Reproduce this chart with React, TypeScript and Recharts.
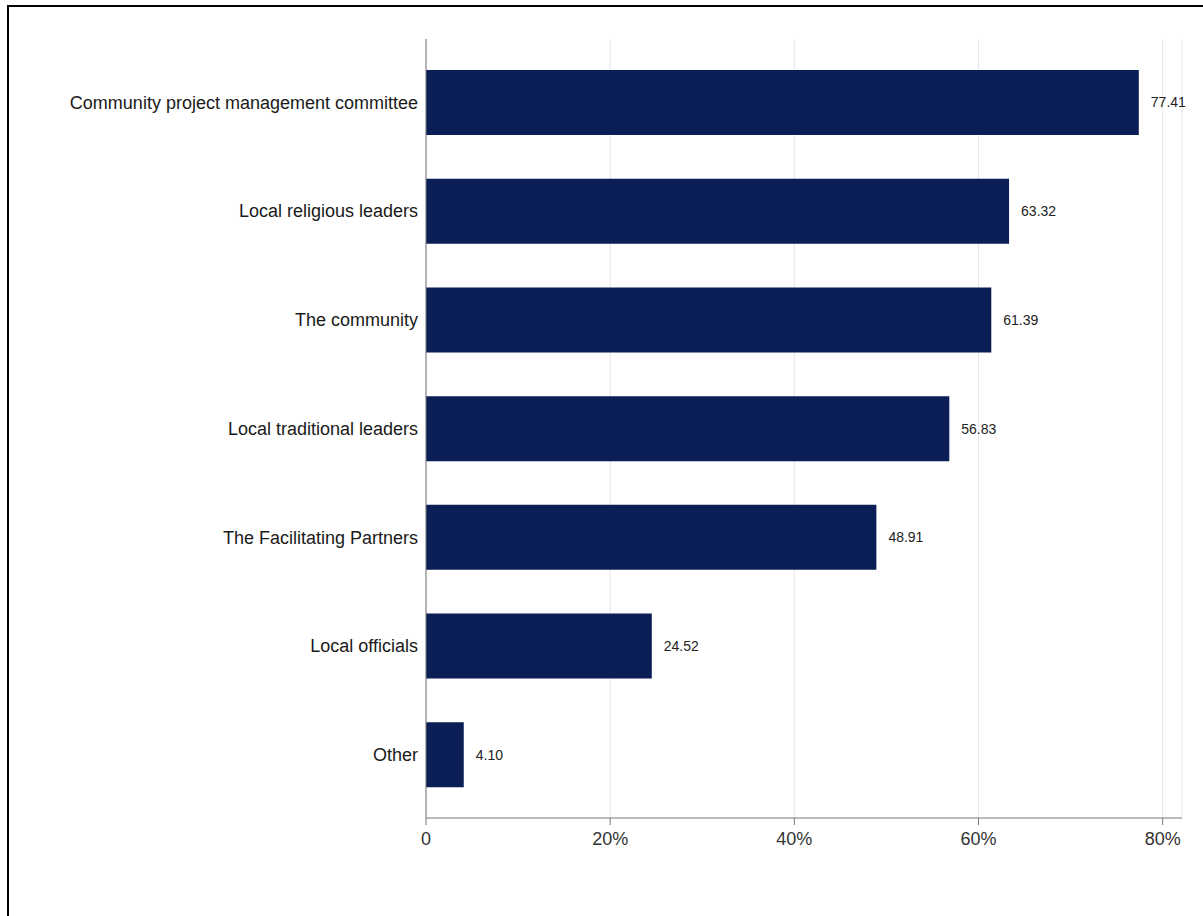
import { BarChart, Bar, XAxis, YAxis, CartesianGrid, LabelList } from 'recharts'

const categories = [
  'Community project management committee',
  'Local religious leaders',
  'The community',
  'Local traditional leaders',
  'The Facilitating Partners',
  'Local officials',
  'Other',
]
const shares = [77.41, 63.32, 61.39, 56.83, 48.91, 24.52, 4.1]
const xTicks = [0, 20, 40, 60, 80]

const data = categories.map((name, i) => ({ name, value: shares[i] }))

export default function App() {
  return (
    <div
      style={{
        position: 'fixed',
        left: 0,
        top: 0,
        width: 1203,
        height: 916,
        overflow: 'hidden',
        background: '#fff',
        fontFamily: '"Liberation Sans", Arial, sans-serif',
      }}
    >
      <div
        style={{
          position: 'absolute',
          left: 7,
          top: 5,
          width: 1400,
          height: 1100,
          borderTop: '2px solid #000',
          borderLeft: '2px solid #000',
        }}
      />
      <div style={{ position: 'absolute', left: 0, top: 0 }}>
        <BarChart
          width={1203}
          height={916}
          data={data}
          layout="vertical"
          margin={{ top: 39, right: 21, left: 0, bottom: 68 }}
        >
          <CartesianGrid horizontal={false} stroke="#e6e6e6" />
          <XAxis
            type="number"
            domain={[0, 82.1]}
            ticks={xTicks}
            tickFormatter={(v) => (v === 0 ? '0' : `${v}%`)}
            tick={{ fontSize: 18, fill: '#333' }}
            stroke="#777"
            tickSize={7}
            tickMargin={7}
            height={30}
          />
          <YAxis
            type="category"
            dataKey="name"
            width={426}
            tickLine={false}
            stroke="#777"
            tick={{ fontSize: 18, fill: '#1a1a1a' }}
            padding={{ top: 9, bottom: 9 }}
          />
          <Bar dataKey="value" fill="#0b1e55" barSize={65} isAnimationActive={false}>
            <LabelList
              dataKey="value"
              position="right"
              offset={12}
              formatter={(v: number) => v.toFixed(2)}
              style={{ fontSize: 14, fill: '#222' }}
            />
          </Bar>
        </BarChart>
      </div>
    </div>
  )
}
